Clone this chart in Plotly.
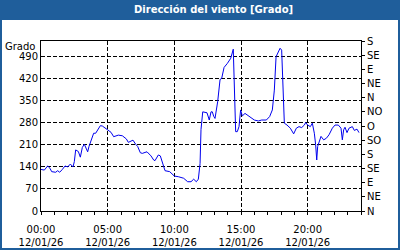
import plotly.graph_objects as go

# ---- data (hours since 00:00 on 12/01/26, wind direction in degrees) ----
hours = [0, 0.25, 0.5, 0.67, 0.8, 1.1, 1.25, 1.4, 1.6, 1.8, 2.0, 2.2, 2.4, 2.5, 2.6, 2.8, 2.95,
         3.1, 3.25, 3.4, 3.5, 3.6, 3.8, 3.95, 4.1, 4.3, 4.45, 4.6, 4.8, 5.0, 5.25, 5.45, 5.6,
         5.8, 6.1, 6.4, 6.55, 6.9, 7.1, 7.25, 7.45, 7.6, 7.8, 7.95, 8.25, 8.45, 8.55, 8.8,
         8.95, 9.15, 9.3, 9.65, 9.8, 10.0, 10.3, 10.7, 11.0, 11.25, 11.45, 11.65, 11.8, 11.93,
         12.0, 12.13, 12.45, 12.62, 12.75, 12.85, 12.95, 13.05, 13.25, 13.43, 13.55, 13.73,
         13.98, 14.23, 14.42, 14.6, 14.72, 14.85, 14.97, 15.1, 15.3, 15.6, 16.0, 16.3, 16.55,
         16.9, 17.0, 17.15, 17.35, 17.5, 17.63, 17.8, 17.93, 18.05, 18.18, 18.25, 18.45, 18.7,
         18.95, 19.15, 19.35, 19.55, 19.75, 19.85, 20.0, 20.2, 20.35, 20.5, 20.6, 20.68, 20.75,
         20.9, 21.0, 21.2, 21.4, 21.6, 21.85, 22.05, 22.3, 22.5, 22.6, 22.7, 22.8, 22.95, 23.1,
         23.35, 23.5, 23.7, 23.85]
direction = [132, 130, 143, 136, 125, 123, 128, 123, 132, 143, 140, 149, 140, 157, 194, 189, 171,
             202, 212, 200, 188, 205, 231, 247, 247, 263, 271, 270, 263, 257, 250, 236, 239,
             241, 239, 229, 218, 225, 212, 205, 185, 183, 186, 188, 175, 162, 160, 178,
             175, 146, 128, 125, 120, 111, 109, 104, 93, 93, 101, 93, 101, 151,
             259, 315, 312, 289, 315, 315, 301, 294, 347, 418, 421, 456,
             469, 485, 514, 252, 252, 268, 321, 302, 310, 302, 289, 286, 289,
             289, 294, 300, 321, 384, 490, 506, 517, 511, 384, 279, 273, 263,
             245, 263, 268, 265, 273, 281, 273, 268, 279, 247, 210, 162, 205,
             226, 237, 226, 231, 242, 263, 273, 273, 263, 226, 258, 266, 249, 263,
             268, 256, 260, 249]

x_tick_vals = [0, 5, 10, 15, 20]
x_tick_text = ["00:00<br>12/01/26", "05:00<br>12/01/26", "10:00<br>12/01/26",
               "15:00<br>12/01/26", "20:00<br>12/01/26"]
left_ticks = [0, 70, 140, 210, 280, 350, 420, 490]
right_ticks = [0, 45, 90, 135, 180, 225, 270, 315, 360, 405, 450, 495, 540]
right_labels = ["N", "NE", "E", "SE", "S", "SO", "O", "NO", "N", "NE", "E", "SE", "S"]

title_text = "Dirección del viento [Grado]"
unit_text = "Grado"

# ---- layout geometry (pixels) ----
W, H = 400, 250
L, R, T, B = 41, 39, 41, 39
pw, ph = W - L - R, H - T - B
BLUE = "#1f5e9b"
FONT = "DejaVu Sans"

def px_x(p):
    return (p - L) / pw

def px_y(p):
    return (H - B - p) / ph

fig = go.Figure()
fig.add_trace(go.Scatter(x=hours, y=direction, mode="lines",
                         line=dict(color="#0000ee", width=1), hoverinfo="skip",
                         showlegend=False))
fig.add_trace(go.Scatter(x=hours, y=direction, mode="lines", yaxis="y2",
                         line=dict(color="rgba(0,0,0,0)", width=1), hoverinfo="skip",
                         showlegend=False))

fig.update_layout(
    width=W, height=H,
    margin=dict(l=L, r=R, t=T, b=B, pad=0, autoexpand=False),
    paper_bgcolor="white", plot_bgcolor="white",
    font=dict(family=FONT, size=10, color="black"),
    xaxis=dict(range=[0, 24], tickvals=x_tick_vals, ticktext=x_tick_text,
               showgrid=True, gridcolor="black", griddash="4px,2px", gridwidth=1,
               showline=True, linecolor="black", linewidth=1, mirror=True,
               ticks="outside", ticklen=3, tickcolor="black", ticklabelstandoff=6,
               automargin=False,
               minor=dict(dtick=1, tick0=0, ticks="outside", ticklen=3, tickcolor="black",
                          showgrid=False),
               zeroline=False, tickfont=dict(size=10, family=FONT)),
    yaxis=dict(range=[0, 540], tickvals=left_ticks, automargin=False,
               showgrid=True, gridcolor="black", griddash="4px,2px", gridwidth=1,
               showline=True, linecolor="black", linewidth=1,
               ticks="", zeroline=False, tickfont=dict(size=10, family=FONT)),
    yaxis2=dict(range=[0, 540], tickvals=right_ticks, ticktext=right_labels,
                overlaying="y", side="right", showgrid=False, zeroline=False,
                showline=True, linecolor="black", linewidth=1, automargin=False,
                ticks="outside", ticklen=3, tickcolor="black",
                tickfont=dict(size=10, family=FONT)),
)

shapes = [
    # title bar
    dict(type="rect", xref="paper", yref="paper", x0=px_x(0), x1=px_x(W), y0=px_y(20),
         y1=px_y(0), fillcolor=BLUE, line=dict(width=0), layer="above"),
    # outer frame
    dict(type="rect", xref="paper", yref="paper", x0=px_x(1), x1=px_x(W - 1), y0=px_y(H - 1),
         y1=px_y(10), fillcolor="rgba(0,0,0,0)", line=dict(color=BLUE, width=2), layer="above"),
]
fig.update_layout(shapes=shapes)

fig.add_annotation(text="<b>" + title_text + "</b>", xref="paper", yref="paper",
                   x=px_x(213), y=px_y(10), xanchor="center", yanchor="middle",
                   showarrow=False, font=dict(color="white", size=10, family=FONT))
fig.add_annotation(text=unit_text, xref="paper", yref="paper",
                   x=px_x(37), y=px_y(46), xanchor="right", yanchor="middle",
                   showarrow=False, font=dict(size=10, family=FONT))

fig.write_html("out.html")
